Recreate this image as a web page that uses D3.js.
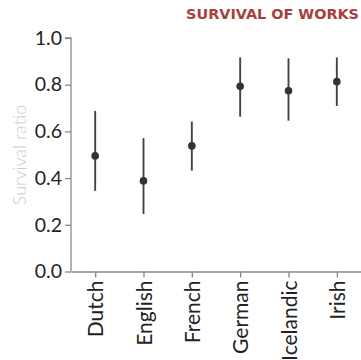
<!DOCTYPE html>
<html><head><meta charset="utf-8">
<script src="https://cdn.jsdelivr.net/npm/d3@7"></script>
<style>body{margin:0;background:#fff;}svg{display:block;font-family:Lato,sans-serif;}</style>
</head><body>
<svg id="c" width="361" height="360"></svg>
<script>
const categories = ["Dutch","English","French","German","Icelandic","Irish"];
const ratio = [0.495,0.388,0.538,0.793,0.774,0.813];
const lower = [0.345,0.246,0.432,0.663,0.646,0.709];
const upper = [0.688,0.571,0.642,0.917,0.913,0.917];
const yTicks = [0,0.2,0.4,0.6,0.8,1.0];

const svg = d3.select("#c");
const x = d3.scalePoint().domain(categories).range([71,361]).padding(0.5);
const y = d3.scaleLinear().domain([0,1]).range([271.5,38]);

const gy = svg.append("g").attr("transform","translate(71,0)")
  .call(d3.axisLeft(y).tickValues(yTicks).tickFormat(d3.format(".1f")).tickSize(6).tickPadding(3));
const gx = svg.append("g").attr("transform","translate(0,271.5)")
  .call(d3.axisBottom(x).tickSize(6).tickPadding(4).tickSizeOuter(0));
[gy,gx].forEach(g=>{
  g.selectAll(".domain").attr("stroke","#888").attr("stroke-width",1.3);
  g.selectAll(".tick line").attr("stroke","#888").attr("stroke-width",1.3);
});
gy.select(".domain").attr("d","M-0,271.5V38H-6");
gy.selectAll(".tick text").attr("font-size",19.5).attr("fill","#222").attr("font-family","Lato");
gx.selectAll(".tick text").attr("font-size",21).attr("fill","#222").attr("font-family","Lato")
  .attr("transform","rotate(-90)").attr("text-anchor","end").attr("dy","0.36em").attr("x",-9).attr("y",0);

svg.append("text").attr("transform","translate(20,155) rotate(-90)").attr("dy","0.35em")
  .attr("text-anchor","middle").attr("font-size",18).attr("font-weight",300).attr("fill","#ccc").text("Survival ratio");

svg.append("text").attr("x",359).attr("y",19.2).attr("text-anchor","end")
  .attr("font-family","DejaVu Sans").attr("font-size",14.4).attr("font-weight","bold").attr("fill","#a5403d")
  .text("SURVIVAL OF WORKS");

svg.append("g").selectAll("line").data(categories).join("line")
  .attr("x1",d=>x(d)).attr("x2",d=>x(d))
  .attr("y1",(d,i)=>y(lower[i])).attr("y2",(d,i)=>y(upper[i]))
  .attr("stroke","#444").attr("stroke-width",1.9);
svg.append("g").selectAll("circle").data(categories).join("circle")
  .attr("cx",d=>x(d)).attr("cy",(d,i)=>y(ratio[i])).attr("r",3.8).attr("fill","#333");
</script>
</body></html>
